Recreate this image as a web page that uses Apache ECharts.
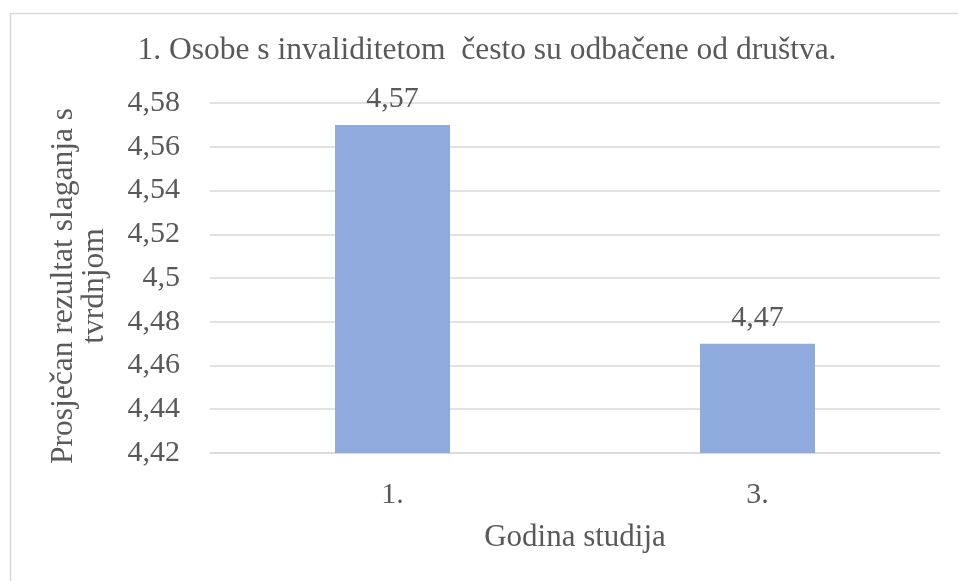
<!DOCTYPE html>
<html>
<head>
<meta charset="utf-8">
<script src="https://cdn.jsdelivr.net/npm/echarts@6/dist/echarts.min.js"></script>
<style>html,body{margin:0;padding:0;background:#fff;}#c{width:958px;height:581px;}</style>
</head>
<body>
<div id="c"></div>
<script>
const titleText = '1. Osobe s invaliditetom  često su odbačene od društva.';
const categories = ['1.', '3.'];
const values = [4.57, 4.47];
const yMin = 4.42, yMax = 4.58, yStep = 0.02;
const xName = 'Godina studija';
const yName = 'Prosječan rezultat slaganja s\ntvrdnjom';

const fmt = v => String(parseFloat(Number(v).toFixed(2))).replace('.', ',');
const font = '"Liberation Serif", "Times New Roman", serif';
const gray = '#595959';

const chart = echarts.init(document.getElementById('c'), null, {renderer: 'canvas'});
chart.setOption({
  animation: false,
  backgroundColor: '#fff',
  textStyle: {fontFamily: font},
  graphic: [{
    type: 'rect', left: 8, top: 11, silent: true,
    shape: {width: 1000, height: 700},
    style: {fill: 'none', stroke: '#d9d9d9', lineWidth: 1.5}
  }],
  title: {
    text: titleText, left: 487, top: 35, textAlign: 'center', padding: 0,
    textStyle: {fontFamily: font, fontSize: 31.5, fontWeight: 'normal', color: gray}
  },
  grid: {left: 210, right: 18, top: 103, bottom: 128},
  xAxis: {
    type: 'category', data: categories,
    name: xName, nameLocation: 'middle', nameGap: 69,
    nameTextStyle: {fontFamily: font, fontSize: 31, color: gray},
    axisLine: {show: true, lineStyle: {color: '#d9d9d9', width: 1.5}},
    axisTick: {show: false},
    axisLabel: {fontFamily: font, fontSize: 30, color: gray, margin: 27}
  },
  yAxis: {
    type: 'value', min: yMin, max: yMax, interval: yStep,
    name: yName, nameLocation: 'middle', nameGap: 100, nameRotate: 90,
    nameTextStyle: {fontFamily: font, fontSize: 31.5, color: gray, lineHeight: 31, padding: [0, 16, 0, 0]},
    axisLine: {show: false}, axisTick: {show: false},
    splitLine: {lineStyle: {color: '#d9d9d9', width: 1.5}},
    axisLabel: {fontFamily: font, fontSize: 30, color: gray, margin: 30, formatter: fmt}
  },
  series: [{
    type: 'bar', data: values, barWidth: '31.5%',
    itemStyle: {color: '#8faadc'},
    label: {show: true, position: 'top', distance: 11, fontFamily: font, fontSize: 30, color: gray, formatter: p => fmt(p.value)}
  }]
});
</script>
</body>
</html>
